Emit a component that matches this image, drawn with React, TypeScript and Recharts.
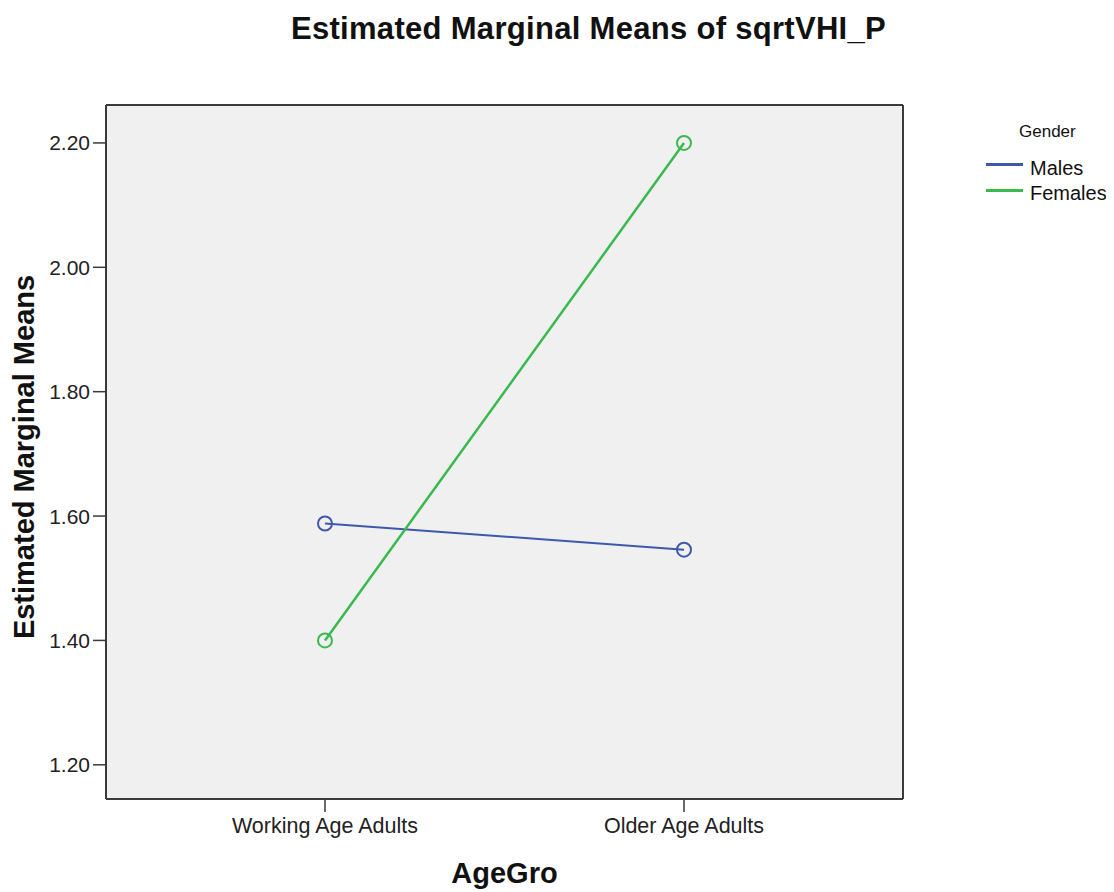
import React from 'react';
import { LineChart, Line, XAxis, YAxis, CartesianGrid, Label } from 'recharts';

const categories = ['Working Age Adults', 'Older Age Adults'];
const males = [1.588, 1.546];
const females = [1.4, 2.2];
const yTicks = [1.2, 1.4, 1.6, 1.8, 2.0, 2.2];
const xTicks = [0, 1];
const seriesNames = ['Males', 'Females'];
const seriesColors = ['#3e58ac', '#39b94e'];
const seriesWidths = [2, 2.5];

const data = categories.map((c, i) => ({ idx: i, name: c, Males: males[i], Females: females[i] }));

const FONT = '"Liberation Sans", Arial, sans-serif';
const AXIS = '#3a3a3a';
const X_DOMAIN: [number, number] = [-0.61, 1.61];
const Y_DOMAIN: [number, number] = [1.145, 2.261];

export default function App() {
  return (
    <div style={{ position: 'relative', width: 1106, height: 884, fontFamily: FONT }}>
      <div
        style={{
          position: 'absolute',
          left: 180.5,
          width: 800,
          top: 4.8,
          textAlign: 'center',
          fontSize: 31,
          lineHeight: '31px',
          fontWeight: 'bold',
          letterSpacing: 0.3,
          color: '#111',
          whiteSpace: 'nowrap',
        }}
      >
        Estimated Marginal Means of sqrtVHI_P
      </div>
      <LineChart
        width={1106}
        height={884}
        data={data}
        margin={{ top: 97, right: 211, left: 0, bottom: 8 }}
      >
        <CartesianGrid fill="#f0f0f0" horizontal={false} vertical={false} stroke="none" />
        <CartesianGrid
          fill="none"
          stroke={AXIS}
          strokeWidth={2}
          horizontalCoordinatesGenerator={(p: any) => [p.offset.top]}
          verticalCoordinatesGenerator={(p: any) => [p.offset.left + p.offset.width]}
        />
        <XAxis
          dataKey="idx"
          type="number"
          domain={X_DOMAIN}
          ticks={xTicks}
          allowDataOverflow
          tickFormatter={(v: number) => categories[v] ?? ''}
          height={85}
          tickSize={13}
          tickMargin={6}
          stroke={AXIS}
          axisLine={{ stroke: AXIS, strokeWidth: 2 }}
          tickLine={{ stroke: AXIS, strokeWidth: 1.5 }}
          tick={{ fill: '#222', fontSize: 21.5, fontFamily: FONT }}
        >
          <Label
            content={(props: any) => {
              const vb = props.viewBox || {};
              const cx = (vb.x ?? 98) + (vb.width ?? 797) / 2;
              return (
                <text x={cx} y={875} textAnchor="middle" fontSize={29} fontWeight="bold" fill="#111" fontFamily={FONT}>
                  AgeGro
                </text>
              );
            }}
          />
        </XAxis>
        <YAxis
          type="number"
          domain={Y_DOMAIN}
          ticks={yTicks}
          allowDataOverflow
          width={98}
          tickSize={13}
          tickMargin={3}
          tickFormatter={(v: number) => v.toFixed(2)}
          axisLine={{ stroke: AXIS, strokeWidth: 2 }}
          tickLine={{ stroke: AXIS, strokeWidth: 1.5 }}
          tick={{ fill: '#222', fontSize: 21, fontFamily: FONT }}
        >
          <Label
            content={() => (
              <text
                x={26}
                y={449}
                transform="rotate(-90, 26, 449)"
                textAnchor="middle"
                fontSize={29}
                fontWeight="bold"
                fill="#111"
                fontFamily={FONT}
              >
                Estimated Marginal Means
              </text>
            )}
          />
        </YAxis>
        {seriesNames.map((s, i) => (
          <Line
            key={s}
            dataKey={s}
            type="linear"
            stroke={seriesColors[i]}
            strokeWidth={seriesWidths[i]}
            dot={{ r: 7, fill: 'none', stroke: seriesColors[i], strokeWidth: 2 }}
            activeDot={false}
            isAnimationActive={false}
          />
        ))}
      </LineChart>
      <div
        style={{
          position: 'absolute',
          left: 1011,
          top: 114.6,
          fontSize: 17,
          lineHeight: '17px',
          color: '#111',
          whiteSpace: 'nowrap',
        }}
      >
        Gender
      </div>
      {seriesNames.map((s, i) => (
        <React.Fragment key={s}>
          <div
            style={{
              position: 'absolute',
              left: 978,
              width: 37,
              top: 155 + i * 26,
              height: 2.5,
              background: seriesColors[i],
            }}
          />
          <div
            style={{
              position: 'absolute',
              left: 1022,
              top: 150 + i * 25,
              fontSize: 20,
              lineHeight: '20px',
              color: '#111',
              whiteSpace: 'nowrap',
            }}
          >
            {s}
          </div>
        </React.Fragment>
      ))}
    </div>
  );
}
